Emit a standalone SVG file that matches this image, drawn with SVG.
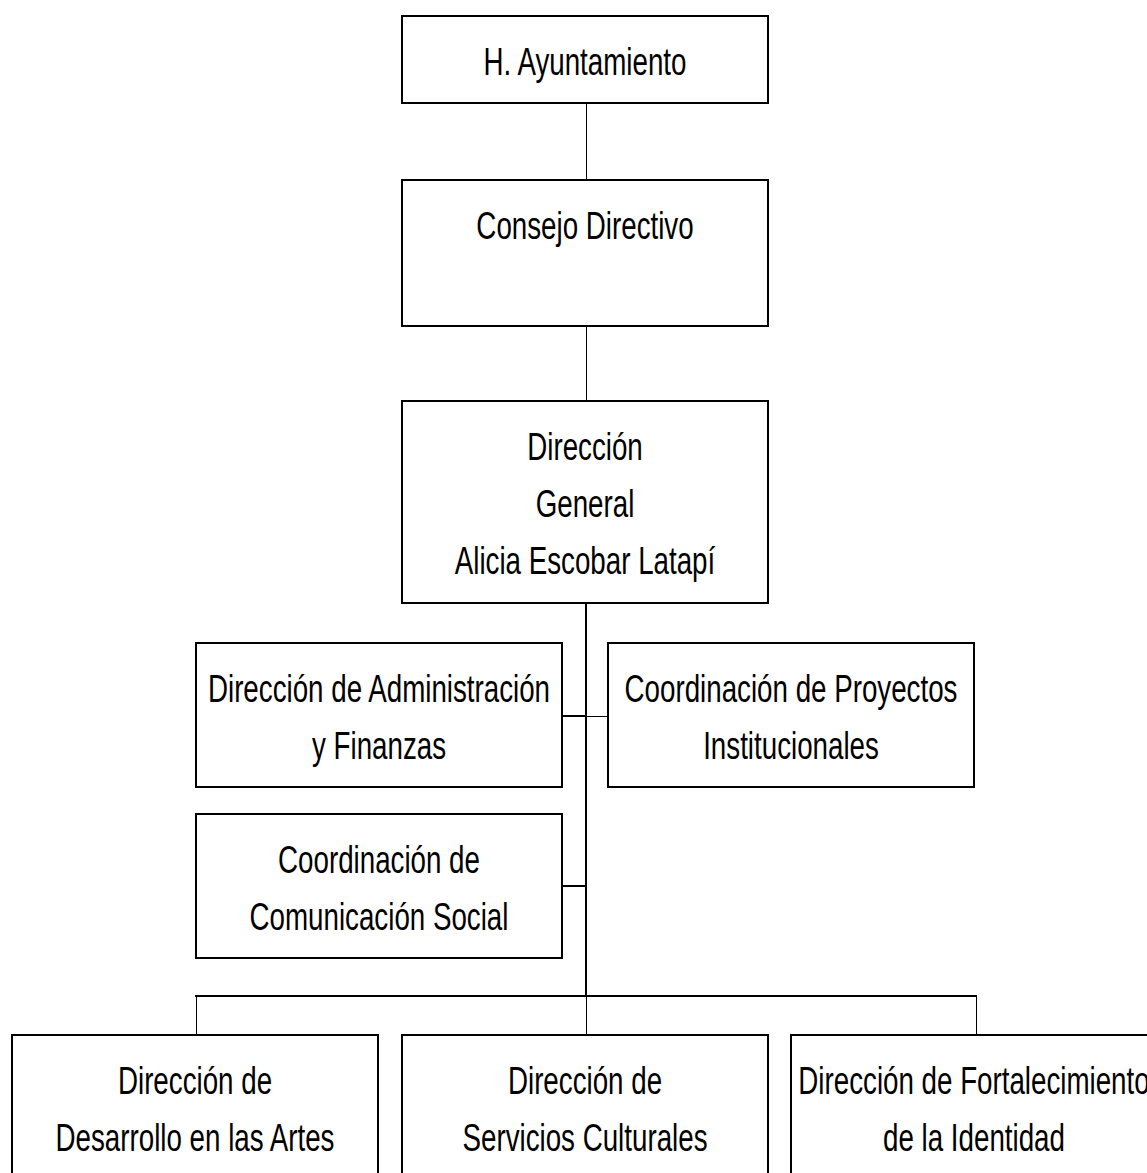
<svg xmlns="http://www.w3.org/2000/svg" width="1147" height="1173" viewBox="0 0 1147 1173">
<style>
.box{fill:#fff;stroke:#000;stroke-width:2}
.t{font-family:"Liberation Sans",Arial,sans-serif;font-size:38px;fill:#000;text-anchor:middle}
.thin{stroke:#000;stroke-width:1;fill:none}
.thick{stroke:#000;stroke-width:2;fill:none}
</style>
<rect width="1147" height="1173" fill="#fff"/>
<g id="connectors">
<line class="thin" x1="586.5" y1="103" x2="586.5" y2="180"/>
<line class="thin" x1="586.5" y1="326" x2="586.5" y2="401"/>
<line class="thick" x1="586" y1="603" x2="586" y2="996"/>
<line class="thick" x1="562" y1="716" x2="586" y2="716"/>
<line class="thin" x1="586" y1="716.5" x2="608" y2="716.5"/>
<line class="thick" x1="562" y1="886" x2="586" y2="886"/>
<line class="thick" x1="195" y1="996" x2="977" y2="996"/>
<line class="thin" x1="196.5" y1="996" x2="196.5" y2="1035"/>
<line class="thin" x1="586.5" y1="996" x2="586.5" y2="1035"/>
<line class="thin" x1="976.5" y1="996" x2="976.5" y2="1035"/>
</g>
<g id="n-ayuntamiento">
<rect class="box" x="402" y="16" width="366" height="87"/>
<text class="t" transform="translate(585,75) scale(0.73,1)">H. Ayuntamiento</text>
</g>
<g id="n-consejo">
<rect class="box" x="402" y="180" width="366" height="146"/>
<text class="t" transform="translate(585,239) scale(0.73,1)">Consejo Directivo</text>
</g>
<g id="n-direccion-general">
<rect class="box" x="402" y="401" width="366" height="202"/>
<text class="t" transform="translate(585,460) scale(0.73,1)"><tspan x="0">Dirección</tspan><tspan x="0" dy="57">General</tspan><tspan x="0" dy="57">Alicia Escobar Latapí</tspan></text>
</g>
<g id="n-administracion">
<rect class="box" x="196" y="643" width="366" height="144"/>
<text class="t" transform="translate(379,702) scale(0.73,1)"><tspan x="0">Dirección de Administración</tspan><tspan x="0" dy="57">y Finanzas</tspan></text>
</g>
<g id="n-proyectos">
<rect class="box" x="608" y="643" width="366" height="144"/>
<text class="t" transform="translate(791,702) scale(0.73,1)"><tspan x="0">Coordinación de Proyectos</tspan><tspan x="0" dy="57">Institucionales</tspan></text>
</g>
<g id="n-comunicacion">
<rect class="box" x="196" y="814" width="366" height="144"/>
<text class="t" transform="translate(379,873) scale(0.73,1)"><tspan x="0">Coordinación de</tspan><tspan x="0" dy="57">Comunicación Social</tspan></text>
</g>
<g id="n-artes">
<rect class="box" x="12" y="1035" width="366" height="160"/>
<text class="t" transform="translate(195,1094) scale(0.73,1)"><tspan x="0">Dirección de</tspan><tspan x="0" dy="57">Desarrollo en las Artes</tspan></text>
</g>
<g id="n-servicios">
<rect class="box" x="402" y="1035" width="366" height="160"/>
<text class="t" transform="translate(585,1094) scale(0.73,1)"><tspan x="0">Dirección de</tspan><tspan x="0" dy="57">Servicios Culturales</tspan></text>
</g>
<g id="n-identidad">
<rect class="box" x="791" y="1035" width="366" height="160"/>
<text class="t" transform="translate(974,1094) scale(0.73,1)"><tspan x="0">Dirección de Fortalecimiento</tspan><tspan x="0" dy="57">de la Identidad</tspan></text>
</g>
</svg>
